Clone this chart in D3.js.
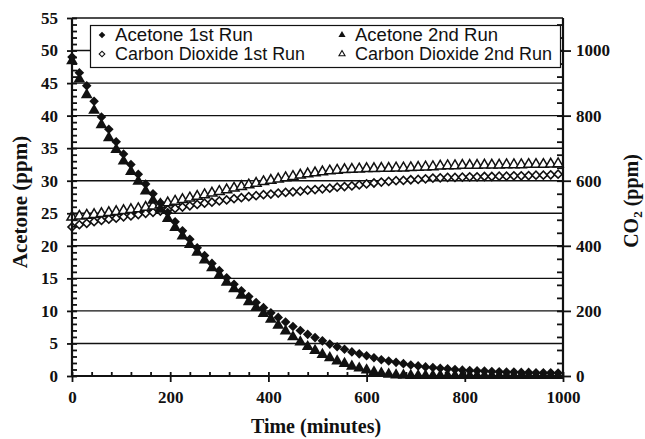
<!DOCTYPE html>
<html><head><meta charset="utf-8">
<script src="https://cdn.jsdelivr.net/npm/d3@7"></script>
<style>
html,body{margin:0;padding:0;background:#fff;}
svg{display:block;}
</style></head>
<body>
<svg id="chart" width="645" height="439"></svg>
<script>
// ---- data ----
const time = [0,15,30,45,60,75,90,105,120,135,150,165,180,195,210,225,240,255,270,285,300,315,330,345,360,375,390,405,420,435,450,465,480,495,510,525,540,555,570,585,600,615,630,645,660,675,690,705,720,735,750,765,780,795,810,825,840,855,870,885,900,915,930,945,960,975,990];
const acetone1 = [49.0,46.6,44.6,42.2,39.8,37.9,36.0,34.1,32.5,31.0,
  29.5,28.0,26.6,25.1,23.7,22.3,21.0,19.7,18.5,17.3,
  16.2,15.1,14.1,13.1,12.2,11.3,10.5,9.7,9.0,8.3,
  7.6,7.0,6.4,5.9,5.4,4.9,4.5,4.1,3.7,3.4,
  3.1,2.8,2.5,2.3,2.1,1.9,1.7,1.55,1.4,1.3,
  1.2,1.1,1.0,0.9,0.85,0.8,0.75,0.7,0.65,0.6,
  0.6,0.55,0.55,0.5,0.5,0.5,0.45];
const acetone2 = [48.4,45.6,43.2,40.8,38.6,36.6,34.8,33.0,31.4,29.9,
  28.4,27.0,25.6,24.2,22.8,21.5,20.2,19.0,17.8,16.6,
  15.5,14.4,13.4,12.4,11.4,10.5,9.6,8.7,7.8,6.9,
  6.0,5.2,4.5,3.9,3.3,2.8,2.3,1.9,1.5,1.2,
  0.9,0.6,0.4,0.25,0.15,0.1,0.08,0.05,0.05,0.05,
  0.05,0.05,0.05,0.05,0.05,0.05,0.05,0.05,0.05,0.05,
  0.05,0.05,0.05,0.05,0.05,0.05,0.05];
const co2run1 = [458,465,469,474,478,482,485,489,492,496,
  500,503,507,511,515,519,523,527,531,534,
  538,541,545,548,551,554,557,559,562,564,
  566,568,571,573,575,577,580,582,584,587,
  590,593,596,598,600,601,603,604,606,608,
  609,610,610,611,612,612,613,613,614,614,
  615,615,616,617,617,618,620];
const co2run2 = [488,491,494,496,499,502,505,508,511,514,
  518,522,527,532,537,542,547,552,557,562,
  567,572,577,582,587,592,597,601,605,609,
  613,617,621,624,627,630,632,634,635,636,
  637,637,638,638,639,639,640,641,642,643,
  645,646,646,647,647,647,648,648,648,649,
  649,649,650,650,650,651,652];
const xTicks = [0,200,400,600,800,1000];
const yLeftTicks = [0,5,10,15,20,25,30,35,40,45,50,55];
const yRightTicks = [0,200,400,600,800,1000];
const legendLabels = ["Acetone 1st Run","Acetone 2nd Run","Carbon Dioxide 1st Run","Carbon Dioxide 2nd Run"];

// ---- layout ----
const L = 72, R = 563, T = 18, B = 376;
const SERIF = "'Liberation Serif','Times New Roman',serif";
const svg = d3.select("#chart");
const x = d3.scaleLinear().domain([0,1000]).range([L,R]);
const yL = d3.scaleLinear().domain([0,55]).range([B,T]);
const yR = d3.scaleLinear().domain([0,1100]).range([B,T]);

// gridlines
svg.append("g").selectAll("line").data(yLeftTicks.filter(d=>d>0)).join("line")
  .attr("x1",L).attr("x2",R).attr("y1",d=>yL(d)).attr("y2",d=>yL(d))
  .attr("stroke","#111").attr("stroke-width",1.4);

function drawSeries(vals, yScale, kind){
  const g = svg.append("g");
  const pts = time.map((t,i)=>[x(t), yScale(vals[i])]);
  if (kind==="fd"){
    g.selectAll("path").data(pts).join("path")
      .attr("d", d3.symbol().type(d3.symbolSquare).size(46)())
      .attr("transform",d=>`translate(${d[0]},${d[1]}) rotate(45)`)
      .attr("fill","#111");
  } else if (kind==="ft"){
    g.selectAll("path").data(pts).join("path")
      .attr("d", d3.symbol().type(d3.symbolTriangle).size(60)())
      .attr("transform",d=>`translate(${d[0]},${d[1]})`)
      .attr("fill","#111");
  } else if (kind==="od"){
    g.selectAll("path").data(pts).join("path")
      .attr("d", d3.symbol().type(d3.symbolSquare).size(32)())
      .attr("transform",d=>`translate(${d[0]},${d[1]}) rotate(45)`)
      .attr("fill","#fff").attr("stroke","#111").attr("stroke-width",1.6);
  } else {
    g.selectAll("path").data(pts).join("path")
      .attr("d", d3.symbol().type(d3.symbolTriangle).size(44)())
      .attr("transform",d=>`translate(${d[0]},${d[1]})`)
      .attr("fill","#fff").attr("stroke","#111").attr("stroke-width",1.5);
  }
}
drawSeries(co2run1, yR, "od");
drawSeries(co2run2, yR, "ot");
drawSeries(acetone2, yL, "ft");
drawSeries(acetone1, yL, "fd");

// axes
function styleAxis(g){
  g.attr("font-family",SERIF).attr("font-size",17).attr("font-weight","bold");
  g.select(".domain").remove();
  g.selectAll(".tick line").attr("stroke","#111").attr("stroke-width",1.8);
  g.selectAll(".tick text")
    .style("font-family",SERIF).style("font-weight","bold").style("font-size","17px")
    .attr("fill","#111");
}
const fmt = d3.format("d");
svg.append("g").attr("transform",`translate(${L},0)`)
  .call(d3.axisLeft(yL).tickValues(yLeftTicks).tickSize(5).tickSizeOuter(0).tickPadding(9).tickFormat(fmt))
  .call(styleAxis);
svg.append("g").attr("transform",`translate(${L},0)`)
  .call(d3.axisRight(yL).tickValues(d3.range(0,56,1)).tickSize(5).tickSizeOuter(0).tickFormat(""))
  .call(styleAxis);
svg.append("g").attr("transform",`translate(0,${B})`)
  .call(d3.axisBottom(x).tickValues(xTicks).tickSize(6).tickSizeOuter(0).tickPadding(9).tickFormat(fmt))
  .call(styleAxis);
svg.append("g").attr("transform",`translate(0,${B})`)
  .call(d3.axisTop(x).tickValues(d3.range(0,1001,40)).tickSize(4).tickSizeOuter(0).tickFormat(""))
  .call(styleAxis);
svg.append("g").attr("transform",`translate(${R},0)`)
  .call(d3.axisRight(yR).tickValues(yRightTicks).tickSize(8).tickSizeOuter(0).tickPadding(5).tickFormat(fmt))
  .call(styleAxis);
svg.append("g").attr("transform",`translate(${R},0)`)
  .call(d3.axisLeft(yR).tickValues(d3.range(0,1100,40)).tickSize(6).tickSizeOuter(0).tickFormat(""))
  .call(styleAxis);
// axis lines
svg.append("line").attr("x1",L).attr("x2",L).attr("y1",T).attr("y2",B+1).attr("stroke","#111").attr("stroke-width",2.2);
svg.append("line").attr("x1",R).attr("x2",R).attr("y1",T).attr("y2",B+1).attr("stroke","#111").attr("stroke-width",2.2);
svg.append("line").attr("x1",L).attr("x2",R).attr("y1",B).attr("y2",B).attr("stroke","#111").attr("stroke-width",2.2);

// legend
const lg = svg.append("g");
lg.append("rect").attr("x",90.5).attr("y",25.5).attr("width",470).attr("height",42)
  .attr("fill","#fff").attr("stroke","#111").attr("stroke-width",1.2);
const legPos = [[102,35],[342,35],[102,54],[342,54]];
const legKinds = ["fd","ft","od","ot"];
legendLabels.forEach((lab,i)=>{
  const [mx,my] = legPos[i];
  const k = legKinds[i];
  const sym = (k==="fd"||k==="od") ? d3.symbolSquare : d3.symbolTriangle;
  const p = lg.append("path")
    .attr("d", d3.symbol().type(sym).size(k[0]==="f"?22:16)())
    .attr("transform", `translate(${mx},${my})` + ((k==="fd"||k==="od")?" rotate(45)":""));
  if (k[0]==="f") p.attr("fill","#111");
  else p.attr("fill","#fff").attr("stroke","#111").attr("stroke-width",1.1);
  lg.append("text").attr("x",mx+13).attr("y",my+5.5).text(lab)
    .attr("font-family","'Liberation Sans',Arial,sans-serif").attr("font-size",17.5)
    .attr("textLength", i%2===0 ? (i===0?138:190) : (i===1?143:197)).attr("lengthAdjust","spacingAndGlyphs")
    .attr("fill","#111");
});

// axis titles
svg.append("text").attr("transform","translate(27,202) rotate(-90)")
  .attr("text-anchor","middle").attr("font-family",SERIF)
  .attr("font-weight","bold").attr("font-size",21).attr("fill","#111").text("Acetone (ppm)");
svg.append("text").attr("x",316).attr("y",433)
  .attr("text-anchor","middle").attr("font-family",SERIF)
  .attr("font-weight","bold").attr("font-size",20).attr("fill","#111").text("Time (minutes)");
const rt = svg.append("text").attr("transform","translate(638,201) rotate(-90)")
  .attr("text-anchor","middle").attr("font-family",SERIF)
  .attr("font-weight","bold").attr("font-size",20).attr("fill","#111");
rt.append("tspan").text("CO");
rt.append("tspan").attr("font-size",13).attr("dy",4).text("2");
rt.append("tspan").attr("dy",-4).text(" (ppm)");
</script>
</body></html>
